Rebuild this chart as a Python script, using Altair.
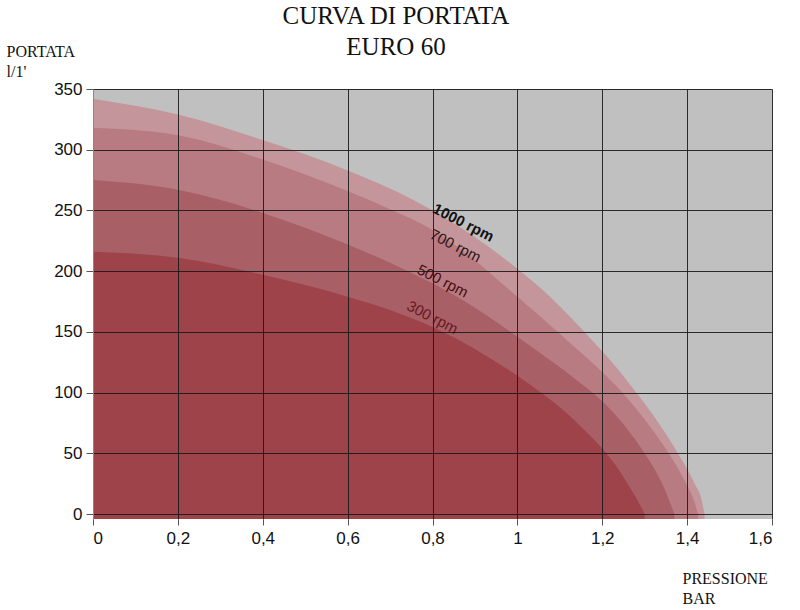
import altair as alt
import pandas as pd

# ---- data ----
series_names = ["1000 rpm", "700 rpm", "500 rpm", "300 rpm"]

x_1000 = [0, 0.2, 0.4, 0.6, 0.7, 0.8, 0.9, 0.96, 1.0, 1.08, 1.15, 1.2, 1.233, 1.276, 1.323, 1.375, 1.418, 1.434, 1.441]
y_1000 = [342, 329, 308, 283, 268, 250, 228, 213, 202, 178, 153, 134, 121, 102, 80, 52, 25, 12, 0]

x_700 = [0, 0.2, 0.4, 0.6, 0.7, 0.8, 0.9, 0.96, 1.0, 1.056, 1.13, 1.2, 1.25, 1.3, 1.355, 1.395, 1.415, 1.426]
y_700 = [318, 312, 292, 266, 251, 234, 209, 191, 179, 162, 139, 117, 99, 78, 51, 27, 12, 0]

x_500 = [0, 0.2, 0.4, 0.6, 0.7, 0.8, 0.9, 0.96, 1.0, 1.056, 1.13, 1.2, 1.25, 1.3, 1.34, 1.37]
y_500 = [275, 267, 248, 222, 207, 190, 170, 156, 146, 132, 113, 93, 74, 50, 26, 0]

x_300 = [0, 0.2, 0.4, 0.6, 0.7, 0.8, 0.9, 0.96, 1.0, 1.056, 1.1, 1.15, 1.2, 1.24, 1.27, 1.29, 1.3]
y_300 = [216, 211, 197, 179, 168, 154, 136, 123, 114, 100, 88, 72, 54, 36, 19, 7, 0]

fill_colors = ["#c4969b", "#b87b81", "#a95f66", "#9f434b"]

label_x = [0.873, 0.854, 0.824, 0.80]
label_y = [240, 221, 192, 162]
label_colors = ["#111111", "#2b1515", "#4a0c10", "#6a1820"]

x_ticks = [0, 0.2, 0.4, 0.6, 0.8, 1.0, 1.2, 1.4, 1.6]
y_ticks = [0, 50, 100, 150, 200, 250, 300, 350]

title_lines = ["CURVA DI PORTATA", "EURO 60"]
y_title = ["PORTATA", "l/1'"]
x_title = ["PRESSIONE", "BAR"]

# ---- tables ----
curves = {
    "1000 rpm": (x_1000, y_1000),
    "700 rpm": (x_700, y_700),
    "500 rpm": (x_500, y_500),
    "300 rpm": (x_300, y_300),
}
rows = []
for name in series_names:
    xs, ys = curves[name]
    for xv, yv in zip(xs, ys):
        rows.append({"serie": name, "pressione": xv, "portata": yv})
df = pd.DataFrame(rows)

df_lab = pd.DataFrame({
    "serie": series_names,
    "lx": label_x,
    "ly": label_y,
    "col": label_colors,
})
df_title = pd.DataFrame({"t": ["\n".join(title_lines)]})

Y_MIN = -4
xscale = alt.Scale(domain=[0, 1.6], nice=False, zero=False)
yscale = alt.Scale(domain=[Y_MIN, 350], nice=False, zero=False)

x_axis = alt.Axis(
    values=x_ticks, grid=True, gridColor="#1a1a1a", gridWidth=1, gridOpacity=0.9,
    domain=False, ticks=True, tickColor="#555555", tickSize=6,
    labelFont="Liberation Sans", labelFontSize=17, labelColor="#111111", labelPadding=5,
    labelExpr="replace(format(datum.value, '.1~f'), '.', ',')",
    title=x_title, titleFont="Liberation Serif", titleFontSize=16, titleFontWeight="normal",
    titleColor="#111111", titleAngle=0, titleAlign="left", titleBaseline="alphabetic",
    titleX=589, titleY=64, titleLineHeight=20, zindex=1,
)
y_axis = alt.Axis(
    values=y_ticks, grid=True, gridColor="#1a1a1a", gridWidth=1, gridOpacity=0.9,
    domain=True, domainColor="#888888", ticks=True, tickColor="#555555", tickSize=7,
    labelFont="Liberation Sans", labelFontSize=17, labelColor="#111111", labelPadding=4,
    title=y_title, titleFont="Liberation Serif", titleFontSize=16, titleFontWeight="normal",
    titleColor="#111111", titleAngle=0, titleAlign="left", titleBaseline="alphabetic",
    titleX=-87, titleY=-33, titleLineHeight=20, zindex=1,
)

base = alt.Chart(df).encode(
    x=alt.X("pressione:Q", scale=xscale, axis=x_axis),
    y=alt.Y("portata:Q", scale=yscale, axis=y_axis),
    y2=alt.datum(Y_MIN),
)

layers = []
for name, col in zip(series_names, fill_colors):
    layers.append(
        base.transform_filter(alt.datum.serie == name)
        .mark_area(color=col, opacity=1, interpolate="monotone")
    )

lab_base = alt.Chart(df_lab).encode(
    x=alt.X("lx:Q", scale=xscale, axis=x_axis),
    y=alt.Y("ly:Q", scale=yscale, axis=y_axis),
    text="serie:N",
    color=alt.Color("col:N", scale=None),
)
lab_bold = lab_base.transform_filter(alt.datum.serie == "1000 rpm").mark_text(
    angle=27, font="Liberation Sans", fontSize=15, fontWeight="bold", align="center", baseline="middle"
)
lab_norm = lab_base.transform_filter(alt.datum.serie != "1000 rpm").mark_text(
    angle=27, font="Liberation Sans", fontSize=15, align="center", baseline="middle"
)

title_layer = alt.Chart(df_title).mark_text(
    font="Liberation Serif", fontSize=25, color="#111111", align="center",
    baseline="alphabetic", lineBreak="\n", lineHeight=31,
).encode(
    x=alt.value(303), y=alt.value(-65), text="t:N",
)

chart = alt.layer(*layers, lab_bold, lab_norm, title_layer).properties(
    width=679,
    height=430,
    autosize=alt.AutoSizeParams(type="none"),
    padding={"left": 93, "top": 89, "right": 28, "bottom": 91},
    background="white",
).configure_view(fill="#c0c0c0", stroke=None)

chart.save("out.html", embed_options={"renderer": "svg", "actions": False})
